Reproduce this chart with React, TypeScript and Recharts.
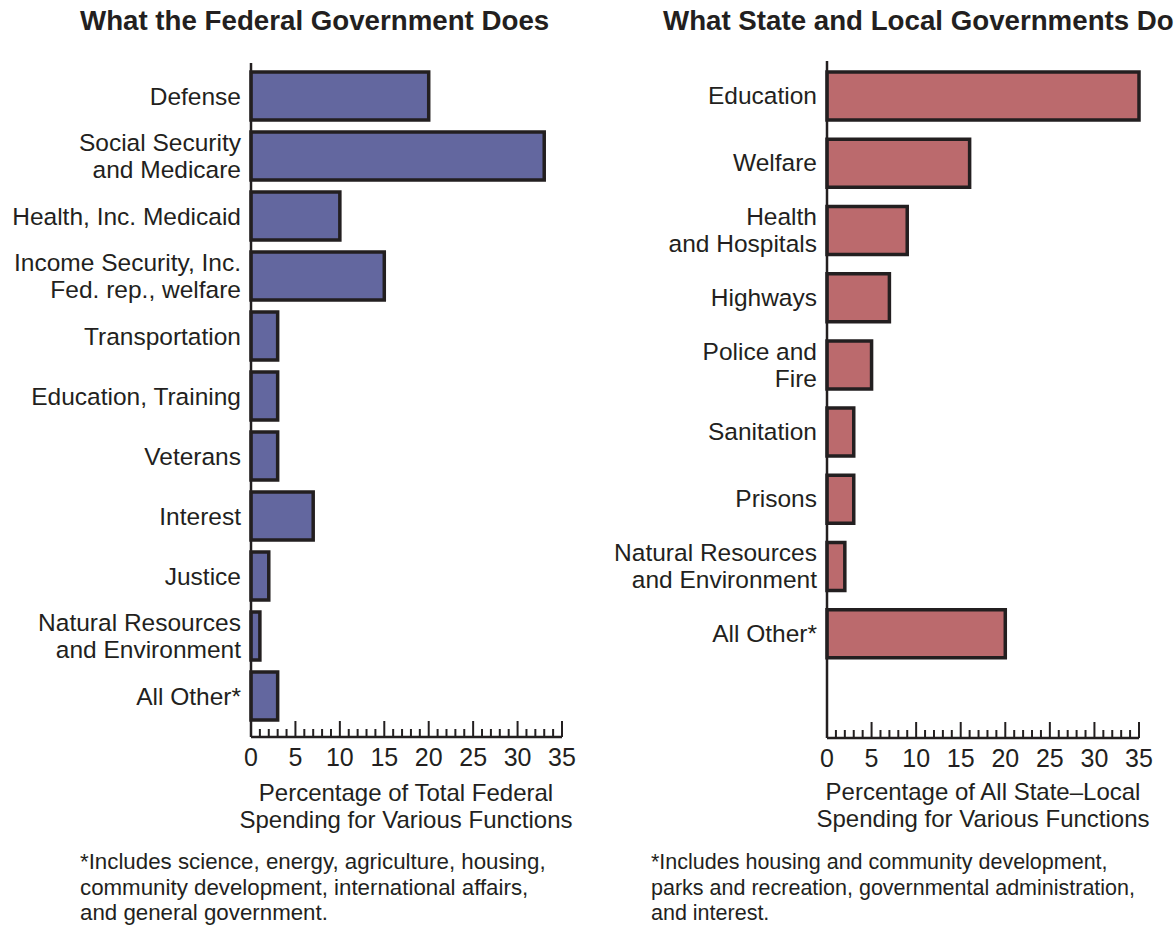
import { BarChart, Bar, XAxis, YAxis } from "recharts";

const federalCategories = [
  "Defense",
  "Social Security\nand Medicare",
  "Health, Inc. Medicaid",
  "Income Security, Inc.\nFed. rep., welfare",
  "Transportation",
  "Education, Training",
  "Veterans",
  "Interest",
  "Justice",
  "Natural Resources\nand Environment",
  "All Other*",
];
const federalValues = [20, 33, 10, 15, 3, 3, 3, 7, 2, 1, 3];

const stateCategories = [
  "Education",
  "Welfare",
  "Health\nand Hospitals",
  "Highways",
  "Police and\nFire",
  "Sanitation",
  "Prisons",
  "Natural Resources\nand Environment",
  "All Other*",
];
const stateValues = [35, 16, 9, 7, 5, 3, 3, 2, 20];

// every whole percent gets a tick, every fifth one a label
const xTicks = [
  0, 1, 2, 3, 4, 5, 6, 7, 8, 9, 10, 11, 12, 13, 14, 15, 16, 17, 18, 19, 20,
  21, 22, 23, 24, 25, 26, 27, 28, 29, 30, 31, 32, 33, 34, 35,
];

const federalData = federalCategories.map((name, i) => ({ name, value: federalValues[i] }));
const stateData = stateCategories.map((name, i) => ({ name, value: stateValues[i] }));

const FONT = '"Liberation Sans", Arial, Helvetica, sans-serif';
const INK = "#231f20";

const CategoryTick = (props: any) => {
  const { x, y, payload } = props;
  const lines = String(payload.value).split("\n");
  const lh = 27;
  const start = y - ((lines.length - 1) * lh) / 2 + 8.5;
  return (
    <text textAnchor="end" fontSize={24.5} fill={INK} fontFamily={FONT}>
      {lines.map((l, i) => (
        <tspan key={i} x={x - 10} y={start + i * lh}>
          {l}
        </tspan>
      ))}
    </text>
  );
};

const ValueTick = (props: any) => {
  const { x, y, payload } = props;
  const v = payload.value;
  const major = v % 5 === 0;
  return (
    <g>
      <line x1={x} x2={x} y1={y} y2={y - (major ? 16 : 8)} stroke={INK} strokeWidth={2} />
      {major && (
        <text x={x} y={y + 29} textAnchor="middle" fontSize={25} fill={INK} fontFamily={FONT}>
          {v}
        </text>
      )}
    </g>
  );
};

type PanelProps = {
  data: { name: string; value: number }[];
  left: number;
  width: number;
  margin: { top: number; right: number; bottom: number; left: number };
  yWidth: number;
  padding: { top: number; bottom: number };
  fill: string;
};

const Panel = ({ data, left, width, margin, yWidth, padding, fill }: PanelProps) => (
  <div style={{ position: "absolute", left, top: 0 }}>
    <BarChart width={width} height={780} data={data} layout="vertical" margin={margin}>
      <XAxis
        type="number"
        domain={[0, 35]}
        ticks={xTicks}
        interval={0}
        tickLine={false}
        tickSize={0}
        tickMargin={0}
        axisLine={{ stroke: INK, strokeWidth: 2.5 }}
        height={40}
        tick={<ValueTick />}
      />
      <YAxis
        type="category"
        dataKey="name"
        width={yWidth}
        interval={0}
        tickLine={false}
        tickSize={0}
        tickMargin={0}
        axisLine={{ stroke: INK, strokeWidth: 2.5 }}
        padding={padding}
        tick={<CategoryTick />}
      />
      <Bar dataKey="value" fill={fill} stroke={INK} strokeWidth={3.5} barSize={48} isAnimationActive={false} />
    </BarChart>
  </div>
);

export default function App() {
  return (
    <div
      style={{
        position: "relative",
        width: 1176,
        height: 928,
        overflow: "hidden",
        background: "#fff",
        fontFamily: FONT,
      }}
    >
      <style>{"body{margin:0}"}</style>
      <Panel
        data={federalData}
        left={0}
        width={600}
        margin={{ top: 63, right: 38, bottom: 3, left: 6 }}
        yWidth={245}
        padding={{ top: 3, bottom: 11 }}
        fill="#63679f"
      />
      <Panel
        data={stateData}
        left={580}
        width={596}
        margin={{ top: 61, right: 37, bottom: 2, left: 7 }}
        yWidth={240}
        padding={{ top: 1, bottom: 71 }}
        fill="#bb6a6d"
      />
      <svg
        width={1176}
        height={928}
        style={{ position: "absolute", left: 0, top: 0, pointerEvents: "none" }}
        fontFamily={FONT}
        fill={INK}
      >
        <text x={80} y={30} fontSize={27.7} fontWeight="bold">
          What the Federal Government Does
        </text>
        <text x={663} y={30} fontSize={27.7} fontWeight="bold">
          What State and Local Governments Do
        </text>
        <text x={406} textAnchor="middle" fontSize={24}>
          <tspan x={406} y={801}>Percentage of Total Federal</tspan>
          <tspan x={406} y={828}>Spending for Various Functions</tspan>
        </text>
        <text x={983} textAnchor="middle" fontSize={24}>
          <tspan x={983} y={800}>Percentage of All State–Local</tspan>
          <tspan x={983} y={827}>Spending for Various Functions</tspan>
        </text>
        <text fontSize={22.3}>
          <tspan x={80} y={869}>*Includes science, energy, agriculture, housing,</tspan>
          <tspan x={80} y={895}>community development, international affairs,</tspan>
          <tspan x={80} y={920}>and general government.</tspan>
        </text>
        <text fontSize={21.5}>
          <tspan x={651} y={869}>*Includes housing and community development,</tspan>
          <tspan x={651} y={895}>parks and recreation, governmental administration,</tspan>
          <tspan x={651} y={920}>and interest.</tspan>
        </text>
      </svg>
    </div>
  );
}
